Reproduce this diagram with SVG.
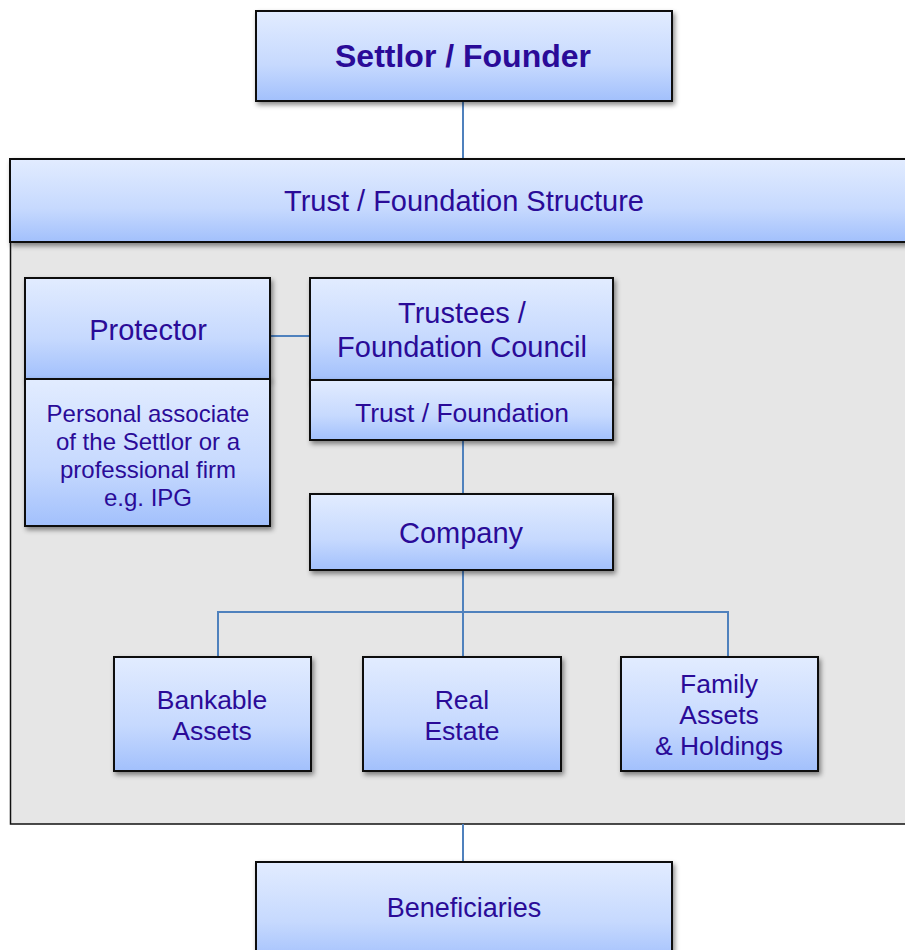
<svg xmlns="http://www.w3.org/2000/svg" width="905" height="950" viewBox="0 0 905 950">
<defs>
<linearGradient id="g" x1="0" y1="0" x2="0" y2="1">
<stop offset="0" stop-color="#e2ecff"/>
<stop offset="0.6" stop-color="#c6d9fe"/>
<stop offset="1" stop-color="#a2c0fc"/>
</linearGradient>
<filter id="sh" x="-10%" y="-10%" width="130%" height="140%">
<feDropShadow dx="2" dy="3" stdDeviation="2.5" flood-color="#000" flood-opacity="0.45"/>
</filter>
</defs>
<style>
.box{fill:url(#g);stroke:#111;stroke-width:2;filter:url(#sh)}
.t{font-family:"Liberation Sans",Arial,sans-serif;fill:#2a0b98;text-anchor:middle}
.c{stroke:#4f81bd;stroke-width:2;fill:none}
</style>
<rect width="905" height="950" fill="#fff"/>
<g id="panel">
<rect x="10" y="242" width="900" height="582" fill="#e6e6e6"/>
<path d="M10.5 242 V824 H905" fill="none" stroke="#111" stroke-width="1.5"/>
</g>
<g id="connectors">
<line class="c" x1="463" y1="101" x2="463" y2="159"/>
<line class="c" x1="270" y1="336" x2="310" y2="336"/>
<line class="c" x1="463" y1="440" x2="463" y2="494"/>
<line class="c" x1="463" y1="570" x2="463" y2="657"/>
<polyline class="c" points="218,657 218,612 728,612 728,657"/>
<line class="c" x1="463" y1="824" x2="463" y2="862"/>
</g>
<g id="settlor">
<rect class="box" x="256" y="11" width="416" height="90"/>
<text class="t" x="463" y="67" font-size="32" font-weight="bold">Settlor / Founder</text>
</g>
<g id="structure">
<rect class="box" x="10" y="159" width="905" height="83"/>
<text class="t" x="464" y="211" font-size="29">Trust / Foundation Structure</text>
</g>
<g id="protector">
<rect class="box" x="25" y="278" width="245" height="101"/>
<text class="t" x="148" y="340" font-size="29">Protector</text>
</g>
<g id="protector-desc">
<rect class="box" x="25" y="379" width="245" height="147"/>
<text class="t" font-size="24"><tspan x="148" y="422">Personal associate</tspan><tspan x="148" y="450">of the Settlor or a</tspan><tspan x="148" y="478">professional firm</tspan><tspan x="148" y="506">e.g. IPG</tspan></text>
</g>
<g id="trustees">
<rect class="box" x="310" y="278" width="303" height="102"/>
<text class="t" font-size="29"><tspan x="462" y="323">Trustees /</tspan><tspan x="462" y="357">Foundation Council</tspan></text>
</g>
<g id="trust-foundation">
<rect class="box" x="310" y="380" width="303" height="60"/>
<text class="t" x="462" y="422" font-size="26.5">Trust / Foundation</text>
</g>
<g id="company">
<rect class="box" x="310" y="494" width="303" height="76"/>
<text class="t" x="461" y="543" font-size="29">Company</text>
</g>
<g id="bankable">
<rect class="box" x="114" y="657" width="197" height="114"/>
<text class="t" font-size="26.5"><tspan x="212" y="709">Bankable</tspan><tspan x="212" y="740">Assets</tspan></text>
</g>
<g id="real-estate">
<rect class="box" x="363" y="657" width="198" height="114"/>
<text class="t" font-size="26.5"><tspan x="462" y="709">Real</tspan><tspan x="462" y="740">Estate</tspan></text>
</g>
<g id="family">
<rect class="box" x="621" y="657" width="197" height="114"/>
<text class="t" font-size="26.5"><tspan x="719" y="693">Family</tspan><tspan x="719" y="724">Assets</tspan><tspan x="719" y="755">&amp; Holdings</tspan></text>
</g>
<g id="beneficiaries">
<rect class="box" x="256" y="862" width="416" height="100"/>
<text class="t" x="464" y="917" font-size="27">Beneficiaries</text>
</g>
</svg>
